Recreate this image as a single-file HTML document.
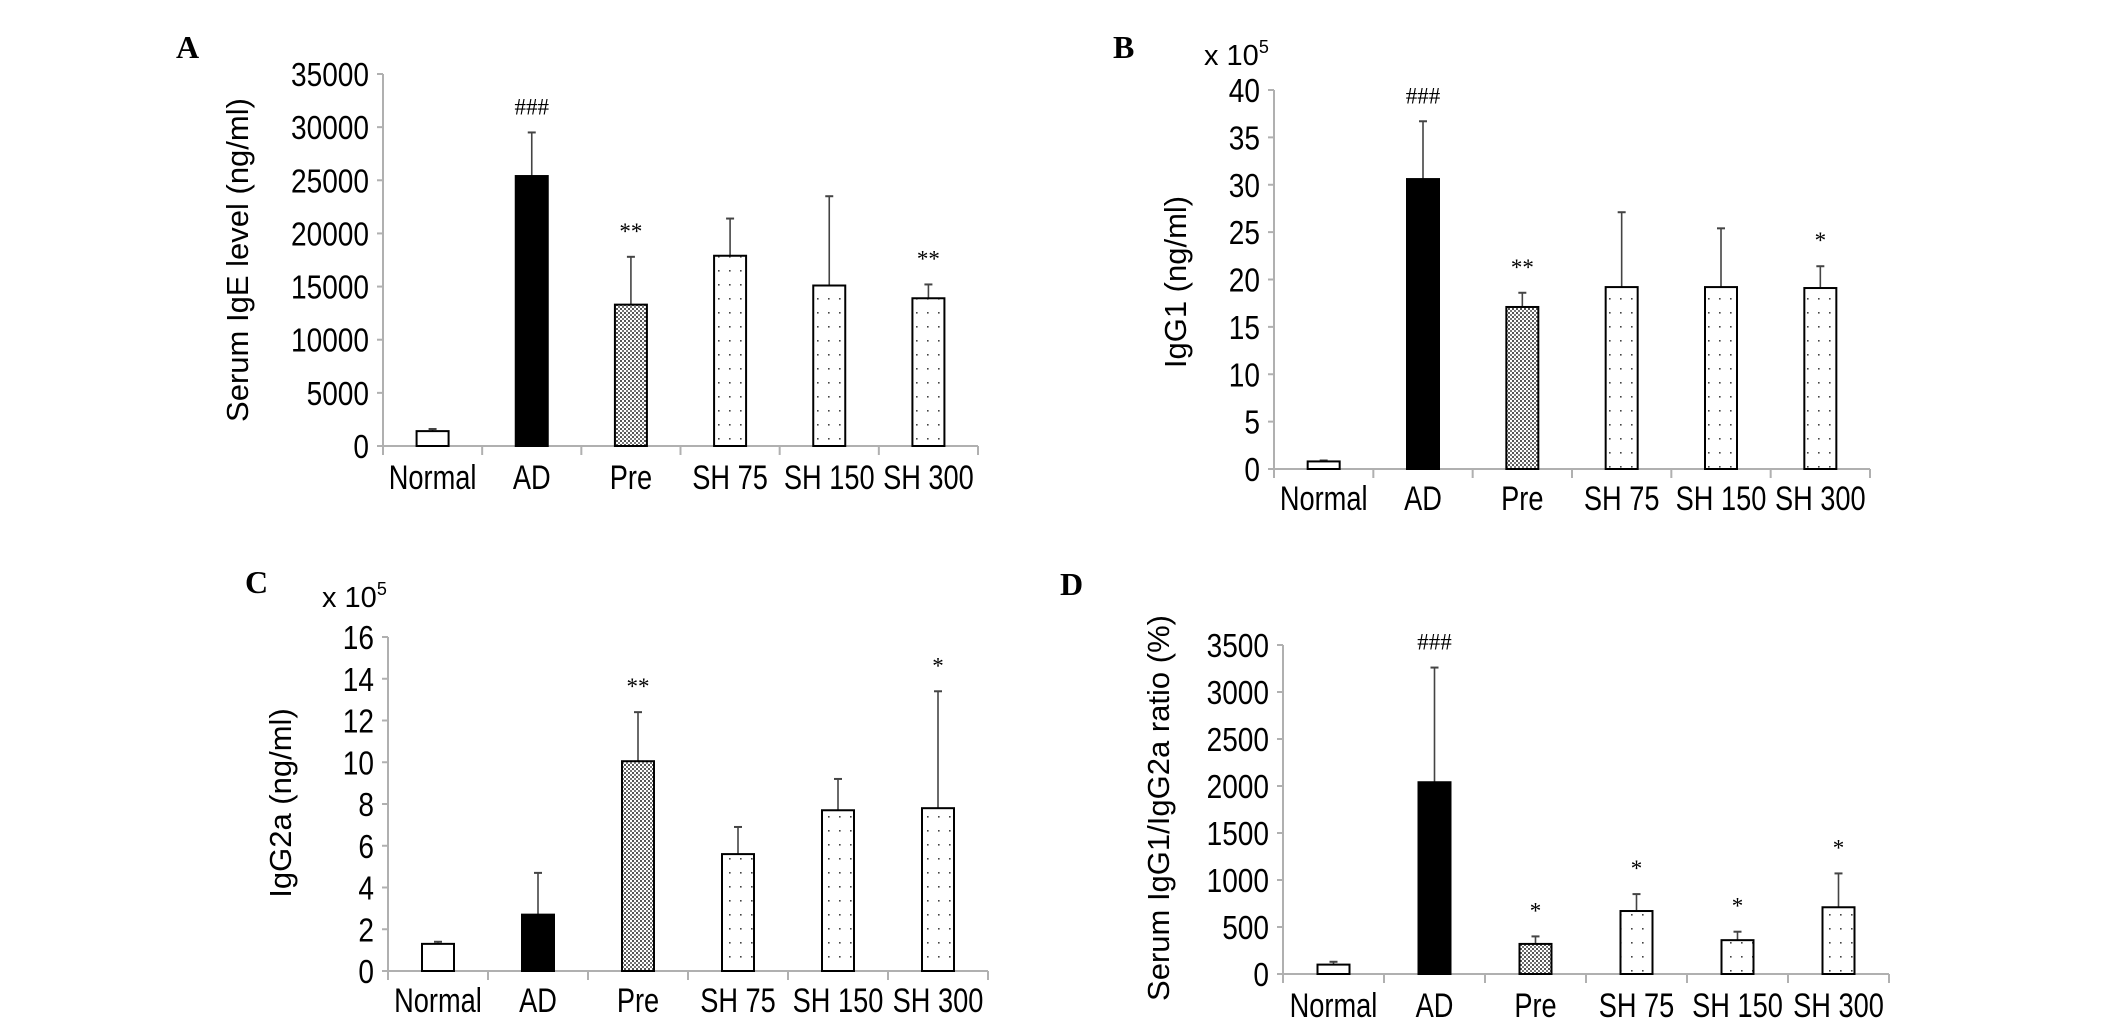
<!DOCTYPE html>
<html><head><meta charset="utf-8"><style>
html,body{margin:0;padding:0;background:#fff;}
svg{display:block;}
</style></head><body>
<svg id="fig" width="2126" height="1029" viewBox="0 0 2126 1029" xmlns="http://www.w3.org/2000/svg" font-family="Liberation Sans, sans-serif">
<defs>
<pattern id="dense" width="4" height="4" patternUnits="userSpaceOnUse"><rect width="4" height="4" fill="#fff"/><rect x="0" y="0" width="2" height="2" fill="#555"/><rect x="2" y="2" width="2" height="2" fill="#777"/></pattern>
<pattern id="sparse" width="11" height="14" patternUnits="userSpaceOnUse"><rect width="11" height="14" fill="#fff"/><rect x="3" y="4" width="1.6" height="1.6" fill="#444"/></pattern>
</defs>
</svg>
<script>
const categories = ["Normal","AD","Pre","SH 75","SH 150","SH 300"];
const aValues = [1400,25400,13300,17900,15100,13900];
const aErrTop = [1600,29500,17800,21400,23500,15200];
const aMarks = ["","###","**","","","**"];
const aTicks = [0,5000,10000,15000,20000,25000,30000,35000];
const bValues = [0.8,30.6,17.1,19.2,19.2,19.1];
const bErrTop = [0.9,36.7,18.6,27.1,25.4,21.4];
const bMarks = ["","###","**","","","*"];
const bTicks = [0,5,10,15,20,25,30,35,40];
const cValues = [1.3,2.7,10.05,5.6,7.7,7.8];
const cErrTop = [1.4,4.7,12.4,6.9,9.2,13.4];
const cMarks = ["","","**","","","*"];
const cTicks = [0,2,4,6,8,10,12,14,16];
const dValues = [100,2040,320,670,360,710];
const dErrTop = [130,3260,400,850,450,1070];
const dMarks = ["","###","*","*","*","*"];
const dTicks = [0,500,1000,1500,2000,2500,3000,3500];

const NS="http://www.w3.org/2000/svg";
const svg=document.getElementById('fig');
const fills=["#fff","#000","url(#dense)","url(#sparse)","url(#sparse)","url(#sparse)"];
function mk(tag,attrs,parent){const e=document.createElementNS(NS,tag);for(const k in attrs)e.setAttribute(k,attrs[k]);(parent||svg).appendChild(e);return e;}
function narrow(t,f){const w=t.getComputedTextLength();t.setAttribute('textLength',(w*f).toFixed(1));t.setAttribute('lengthAdjust','spacingAndGlyphs');}

function panel(cfg,values,errTop,marks,ticks){
  const g=mk('g',{});
  
  
  const max=ticks[ticks.length-1];
  const y=v=>cfg.y0-(v/max)*(cfg.y0-cfg.yTop);
  const bw=(cfg.xR-cfg.x0)/categories.length;
  const cx=i=>cfg.x0+bw*(i+0.5);
  const L=mk('text',{x:cfg.lx,y:cfg.ly,'font-family':'Liberation Serif, serif','font-weight':'bold','font-size':32},g);
  L.textContent=cfg.id.toUpperCase();
  
  
  if(cfg.exp){
    const t=mk('text',{x:cfg.ex,y:cfg.ey,'font-size':29},g);
    
    
    t.appendChild(document.createTextNode('x 10'));
    const s=mk('tspan',{'font-size':18,dy:-12},t);s.textContent='5';
  }
  const yt=mk('text',{x:0,y:0,'font-size':31,'text-anchor':'middle',transform:`translate(${cfg.tx},${cfg.ty}) rotate(-90)`},g);
  yt.textContent=cfg.title;
  
  
  const ax=mk('line',{x1:cfg.x0,y1:cfg.yTop,x2:cfg.x0,y2:cfg.y0,stroke:'#b0b0b0','stroke-width':2},g);
  
  
  const xa=mk('line',{x1:cfg.x0,y1:cfg.y0,x2:cfg.xR,y2:cfg.y0,stroke:'#b0b0b0','stroke-width':2},g);
  
  
  ticks.forEach(t=>{
    mk('line',{x1:cfg.x0-6,y1:y(t),x2:cfg.x0,y2:y(t),stroke:'#b0b0b0','stroke-width':2},g);
    const tl=mk('text',{x:cfg.x0-14,y:y(t)+12,'font-size':33,'text-anchor':'end'},g);
    tl.textContent=t;
    
    
    narrow(tl,0.85);
  });
  for(let i=0;i<=categories.length;i++){
    mk('line',{x1:cfg.x0+bw*i,y1:cfg.y0,x2:cfg.x0+bw*i,y2:cfg.y0+9,stroke:'#b0b0b0','stroke-width':2},g);
  }
  categories.forEach((c,i)=>{
    const top=y(values[i]);
    const et=y(errTop[i]);
    const el=mk('line',{x1:cx(i),y1:et,x2:cx(i),y2:top,stroke:'#444','stroke-width':1.6},g);
    
    
    mk('line',{x1:cx(i)-4,y1:et,x2:cx(i)+4,y2:et,stroke:'#444','stroke-width':2},g);
    const r=mk('rect',{x:cx(i)-16,y:top,width:32,height:cfg.y0-top,fill:fills[i],stroke:'#000','stroke-width':2},g);
    
    
    if(marks[i]){
      const m=mk('text',{x:cx(i),y:et-18,'font-size':23,'text-anchor':'middle','font-family':'Liberation Serif, serif'},g);
      m.textContent=marks[i];
      
      
    }
    const xl=mk('text',{x:cx(i),y:cfg.lb,'font-size':34,'text-anchor':'middle'},g);
    xl.textContent=c;
    
    
    narrow(xl,0.8);
  });
}
panel({id:'a',x0:383,xR:978,yTop:74,y0:446,lx:176,ly:58,title:'Serum IgE level (ng/ml)',tx:248,ty:260,lb:489},aValues,aErrTop,aMarks,aTicks);
panel({id:'b',x0:1274,xR:1870,yTop:90,y0:469,lx:1113,ly:58,exp:true,ex:1204,ey:65,title:'IgG1  (ng/ml)',tx:1186,ty:282,lb:510},bValues,bErrTop,bMarks,bTicks);
panel({id:'c',x0:388,xR:988,yTop:637,y0:971,lx:245,ly:593,exp:true,ex:322,ey:607,title:'IgG2a (ng/ml)',tx:291,ty:803,lb:1012},cValues,cErrTop,cMarks,cTicks);
panel({id:'d',x0:1283,xR:1889,yTop:645,y0:974,lx:1060,ly:595,title:'Serum IgG1/IgG2a ratio (%)',tx:1169,ty:808,lb:1017},dValues,dErrTop,dMarks,dTicks);
</script>
</body></html>
